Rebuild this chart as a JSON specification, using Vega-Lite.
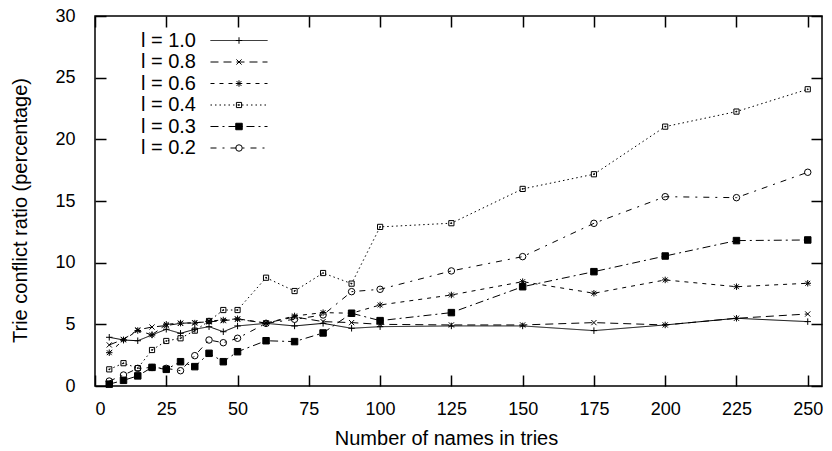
{
  "$schema": "https://vega.github.io/schema/vega-lite/v6.json",
  "width": 727,
  "height": 370,
  "autosize": {"type": "none"},
  "padding": {"left": 95, "top": 16, "right": 10, "bottom": 65},
  "background": "white",
  "config": {
    "view": {"stroke": "black", "strokeWidth": 1.5},
    "font": "Liberation Sans",
    "axis": {
      "domain": false, "grid": false, "tickColor": "black", "tickWidth": 1.5,
      "labelColor": "black", "labelFont": "Liberation Sans", "labelFontSize": 18,
      "titleFont": "Liberation Sans", "titleFontSize": 20, "titleFontWeight": "normal", "titleColor": "black"
    },
    "legend": {"labelFont": "Liberation Sans"}
  },
  "data": {"values": [
    {"n": 5, "r": 3.95, "l": "l = 1.0", "s": "1.0"},
    {"n": 10, "r": 3.73, "l": "l = 1.0", "s": "1.0"},
    {"n": 15, "r": 3.67, "l": "l = 1.0", "s": "1.0"},
    {"n": 20, "r": 4.14, "l": "l = 1.0", "s": "1.0"},
    {"n": 25, "r": 4.6, "l": "l = 1.0", "s": "1.0"},
    {"n": 30, "r": 4.27, "l": "l = 1.0", "s": "1.0"},
    {"n": 35, "r": 4.6, "l": "l = 1.0", "s": "1.0"},
    {"n": 40, "r": 4.81, "l": "l = 1.0", "s": "1.0"},
    {"n": 45, "r": 4.4, "l": "l = 1.0", "s": "1.0"},
    {"n": 50, "r": 4.87, "l": "l = 1.0", "s": "1.0"},
    {"n": 60, "r": 5.08, "l": "l = 1.0", "s": "1.0"},
    {"n": 70, "r": 4.87, "l": "l = 1.0", "s": "1.0"},
    {"n": 80, "r": 5.08, "l": "l = 1.0", "s": "1.0"},
    {"n": 90, "r": 4.68, "l": "l = 1.0", "s": "1.0"},
    {"n": 100, "r": 4.81, "l": "l = 1.0", "s": "1.0"},
    {"n": 125, "r": 4.87, "l": "l = 1.0", "s": "1.0"},
    {"n": 150, "r": 4.87, "l": "l = 1.0", "s": "1.0"},
    {"n": 175, "r": 4.49, "l": "l = 1.0", "s": "1.0"},
    {"n": 200, "r": 4.95, "l": "l = 1.0", "s": "1.0"},
    {"n": 225, "r": 5.49, "l": "l = 1.0", "s": "1.0"},
    {"n": 250, "r": 5.22, "l": "l = 1.0", "s": "1.0"},

    {"n": 5, "r": 3.33, "l": "l = 0.8", "s": "0.8"},
    {"n": 10, "r": 3.78, "l": "l = 0.8", "s": "0.8"},
    {"n": 15, "r": 4.55, "l": "l = 0.8", "s": "0.8"},
    {"n": 20, "r": 4.78, "l": "l = 0.8", "s": "0.8"},
    {"n": 25, "r": 4.9, "l": "l = 0.8", "s": "0.8"},
    {"n": 30, "r": 5.08, "l": "l = 0.8", "s": "0.8"},
    {"n": 35, "r": 5.14, "l": "l = 0.8", "s": "0.8"},
    {"n": 40, "r": 5.2, "l": "l = 0.8", "s": "0.8"},
    {"n": 45, "r": 5.3, "l": "l = 0.8", "s": "0.8"},
    {"n": 50, "r": 5.41, "l": "l = 0.8", "s": "0.8"},
    {"n": 60, "r": 5.1, "l": "l = 0.8", "s": "0.8"},
    {"n": 70, "r": 5.6, "l": "l = 0.8", "s": "0.8"},
    {"n": 80, "r": 5.22, "l": "l = 0.8", "s": "0.8"},
    {"n": 90, "r": 5.14, "l": "l = 0.8", "s": "0.8"},
    {"n": 100, "r": 5.0, "l": "l = 0.8", "s": "0.8"},
    {"n": 125, "r": 4.95, "l": "l = 0.8", "s": "0.8"},
    {"n": 150, "r": 4.95, "l": "l = 0.8", "s": "0.8"},
    {"n": 175, "r": 5.14, "l": "l = 0.8", "s": "0.8"},
    {"n": 200, "r": 4.95, "l": "l = 0.8", "s": "0.8"},
    {"n": 225, "r": 5.49, "l": "l = 0.8", "s": "0.8"},
    {"n": 250, "r": 5.84, "l": "l = 0.8", "s": "0.8"},

    {"n": 5, "r": 2.7, "l": "l = 0.6", "s": "0.6"},
    {"n": 10, "r": 3.73, "l": "l = 0.6", "s": "0.6"},
    {"n": 15, "r": 4.5, "l": "l = 0.6", "s": "0.6"},
    {"n": 20, "r": 4.15, "l": "l = 0.6", "s": "0.6"},
    {"n": 25, "r": 5.0, "l": "l = 0.6", "s": "0.6"},
    {"n": 30, "r": 5.1, "l": "l = 0.6", "s": "0.6"},
    {"n": 35, "r": 5.1, "l": "l = 0.6", "s": "0.6"},
    {"n": 40, "r": 5.27, "l": "l = 0.6", "s": "0.6"},
    {"n": 45, "r": 5.35, "l": "l = 0.6", "s": "0.6"},
    {"n": 50, "r": 5.45, "l": "l = 0.6", "s": "0.6"},
    {"n": 60, "r": 5.1, "l": "l = 0.6", "s": "0.6"},
    {"n": 70, "r": 5.68, "l": "l = 0.6", "s": "0.6"},
    {"n": 80, "r": 5.95, "l": "l = 0.6", "s": "0.6"},
    {"n": 90, "r": 5.9, "l": "l = 0.6", "s": "0.6"},
    {"n": 100, "r": 6.57, "l": "l = 0.6", "s": "0.6"},
    {"n": 125, "r": 7.38, "l": "l = 0.6", "s": "0.6"},
    {"n": 150, "r": 8.46, "l": "l = 0.6", "s": "0.6"},
    {"n": 175, "r": 7.52, "l": "l = 0.6", "s": "0.6"},
    {"n": 200, "r": 8.6, "l": "l = 0.6", "s": "0.6"},
    {"n": 225, "r": 8.05, "l": "l = 0.6", "s": "0.6"},
    {"n": 250, "r": 8.33, "l": "l = 0.6", "s": "0.6"},

    {"n": 5, "r": 1.35, "l": "l = 0.4", "s": "0.4"},
    {"n": 10, "r": 1.85, "l": "l = 0.4", "s": "0.4"},
    {"n": 15, "r": 1.45, "l": "l = 0.4", "s": "0.4"},
    {"n": 20, "r": 2.92, "l": "l = 0.4", "s": "0.4"},
    {"n": 25, "r": 3.65, "l": "l = 0.4", "s": "0.4"},
    {"n": 30, "r": 3.87, "l": "l = 0.4", "s": "0.4"},
    {"n": 35, "r": 4.49, "l": "l = 0.4", "s": "0.4"},
    {"n": 40, "r": 5.27, "l": "l = 0.4", "s": "0.4"},
    {"n": 45, "r": 6.16, "l": "l = 0.4", "s": "0.4"},
    {"n": 50, "r": 6.16, "l": "l = 0.4", "s": "0.4"},
    {"n": 60, "r": 8.78, "l": "l = 0.4", "s": "0.4"},
    {"n": 70, "r": 7.7, "l": "l = 0.4", "s": "0.4"},
    {"n": 80, "r": 9.16, "l": "l = 0.4", "s": "0.4"},
    {"n": 90, "r": 8.3, "l": "l = 0.4", "s": "0.4"},
    {"n": 100, "r": 12.9, "l": "l = 0.4", "s": "0.4"},
    {"n": 125, "r": 13.2, "l": "l = 0.4", "s": "0.4"},
    {"n": 150, "r": 15.98, "l": "l = 0.4", "s": "0.4"},
    {"n": 175, "r": 17.17, "l": "l = 0.4", "s": "0.4"},
    {"n": 200, "r": 21.03, "l": "l = 0.4", "s": "0.4"},
    {"n": 225, "r": 22.25, "l": "l = 0.4", "s": "0.4"},
    {"n": 250, "r": 24.06, "l": "l = 0.4", "s": "0.4"},

    {"n": 5, "r": 0.15, "l": "l = 0.3", "s": "0.3"},
    {"n": 10, "r": 0.46, "l": "l = 0.3", "s": "0.3"},
    {"n": 15, "r": 0.82, "l": "l = 0.3", "s": "0.3"},
    {"n": 20, "r": 1.51, "l": "l = 0.3", "s": "0.3"},
    {"n": 25, "r": 1.35, "l": "l = 0.3", "s": "0.3"},
    {"n": 30, "r": 1.97, "l": "l = 0.3", "s": "0.3"},
    {"n": 35, "r": 1.57, "l": "l = 0.3", "s": "0.3"},
    {"n": 40, "r": 2.65, "l": "l = 0.3", "s": "0.3"},
    {"n": 45, "r": 1.97, "l": "l = 0.3", "s": "0.3"},
    {"n": 50, "r": 2.78, "l": "l = 0.3", "s": "0.3"},
    {"n": 60, "r": 3.67, "l": "l = 0.3", "s": "0.3"},
    {"n": 70, "r": 3.6, "l": "l = 0.3", "s": "0.3"},
    {"n": 80, "r": 4.3, "l": "l = 0.3", "s": "0.3"},
    {"n": 90, "r": 5.9, "l": "l = 0.3", "s": "0.3"},
    {"n": 100, "r": 5.3, "l": "l = 0.3", "s": "0.3"},
    {"n": 125, "r": 5.95, "l": "l = 0.3", "s": "0.3"},
    {"n": 150, "r": 8.05, "l": "l = 0.3", "s": "0.3"},
    {"n": 175, "r": 9.27, "l": "l = 0.3", "s": "0.3"},
    {"n": 200, "r": 10.54, "l": "l = 0.3", "s": "0.3"},
    {"n": 225, "r": 11.79, "l": "l = 0.3", "s": "0.3"},
    {"n": 250, "r": 11.84, "l": "l = 0.3", "s": "0.3"},

    {"n": 5, "r": 0.4, "l": "l = 0.2", "s": "0.2"},
    {"n": 10, "r": 0.89, "l": "l = 0.2", "s": "0.2"},
    {"n": 15, "r": 1.43, "l": "l = 0.2", "s": "0.2"},
    {"n": 20, "r": 1.5, "l": "l = 0.2", "s": "0.2"},
    {"n": 25, "r": 1.43, "l": "l = 0.2", "s": "0.2"},
    {"n": 30, "r": 1.24, "l": "l = 0.2", "s": "0.2"},
    {"n": 35, "r": 2.46, "l": "l = 0.2", "s": "0.2"},
    {"n": 40, "r": 3.73, "l": "l = 0.2", "s": "0.2"},
    {"n": 45, "r": 3.51, "l": "l = 0.2", "s": "0.2"},
    {"n": 50, "r": 3.87, "l": "l = 0.2", "s": "0.2"},
    {"n": 60, "r": 5.08, "l": "l = 0.2", "s": "0.2"},
    {"n": 70, "r": 5.41, "l": "l = 0.2", "s": "0.2"},
    {"n": 80, "r": 5.76, "l": "l = 0.2", "s": "0.2"},
    {"n": 90, "r": 7.65, "l": "l = 0.2", "s": "0.2"},
    {"n": 100, "r": 7.84, "l": "l = 0.2", "s": "0.2"},
    {"n": 125, "r": 9.33, "l": "l = 0.2", "s": "0.2"},
    {"n": 150, "r": 10.49, "l": "l = 0.2", "s": "0.2"},
    {"n": 175, "r": 13.19, "l": "l = 0.2", "s": "0.2"},
    {"n": 200, "r": 15.35, "l": "l = 0.2", "s": "0.2"},
    {"n": 225, "r": 15.27, "l": "l = 0.2", "s": "0.2"},
    {"n": 250, "r": 17.33, "l": "l = 0.2", "s": "0.2"}
  ]},
  "layer": [
    {
      "mark": {"type": "line", "stroke": "black", "strokeWidth": 1},
      "encoding": {
        "x": {"field": "n", "type": "quantitative", "scale": {"domain": [0, 255], "nice": false},
              "axis": {"orient": "bottom", "values": [0,25,50,75,100,125,150,175,200,225,250], "tickSize": -11, "labelPadding": 25, "title": "Number of names in tries", "titlePadding": 10, "titleX": 351}},
        "y": {"field": "r", "type": "quantitative", "scale": {"domain": [0, 30], "nice": false},
              "axis": {"orient": "left", "values": [0,5,10,15,20,25,30], "tickSize": -11, "labelPadding": 31, "title": "Trie conflict ratio (percentage)", "titlePadding": 24, "titleY": 194}},
        "strokeDash": {"field": "l", "type": "nominal",
          "scale": {"domain": ["l = 1.0","l = 0.8","l = 0.6","l = 0.4","l = 0.3","l = 0.2"],
                    "range": [[1,0],[8,5],[4,5],[1.5,3],[8,4,2,4],[6,6,2,6]]},
          "legend": {"orient": "none", "legendX": 134, "legendY": 14.5, "title": null, "padding": 0,
                     "symbolType": "M-8.8,0L8.8,0", "symbolSize": 42, "symbolStrokeColor": "black", "symbolStrokeWidth": 1,
                     "labelAlign": "right", "labelOffset": -53, "labelFontSize": 20, "labelColor": "black", "rowPadding": 1.5}}
      }
    },
    {
      "mark": {"type": "point", "strokeWidth": 1, "size": 42, "opacity": 1},
      "encoding": {
        "x": {"field": "n", "type": "quantitative",
              "axis": {"orient": "top", "values": [0,25,50,75,100,125,150,175,200,225,250], "tickSize": -11, "labels": false, "title": null}},
        "y": {"field": "r", "type": "quantitative",
              "axis": {"orient": "right", "values": [0,5,10,15,20,25,30], "tickSize": -11, "labels": false, "title": null}},
        "shape": {"field": "s", "type": "nominal",
          "scale": {"domain": ["1.0","0.8","0.6","0.4","0.3","0.2"],
                    "range": ["M-1,0L1,0M0,-1L0,1", "M-0.8,-0.8L0.8,0.8M-0.8,0.8L0.8,-0.8", "M-1,0L1,0M0,-1L0,1M-0.75,-0.75L0.75,0.75M-0.75,0.75L0.75,-0.75", "M-0.8,-0.8L0.8,-0.8L0.8,0.8L-0.8,0.8ZM-0.12,-0.12L0.12,-0.12L0.12,0.12L-0.12,0.12Z", "square", "circle"]},
          "legend": {"orient": "none", "legendX": 134, "legendY": 14.5, "title": null, "padding": 0,
                     "symbolSize": 42, "symbolStrokeWidth": 1,
                     "labelExpr": "' '", "labelFontSize": 20, "rowPadding": 1.5}},
        "stroke": {"field": "s", "type": "nominal",
          "scale": {"domain": ["1.0","0.8","0.6","0.4","0.3","0.2"],
                    "range": ["black","black","black","black","black","black"]}},
        "fill": {"field": "s", "type": "nominal",
          "scale": {"domain": ["1.0","0.8","0.6","0.4","0.3","0.2"],
                    "range": ["transparent","transparent","transparent","transparent","black","transparent"]}}
      }
    }
  ]
}
